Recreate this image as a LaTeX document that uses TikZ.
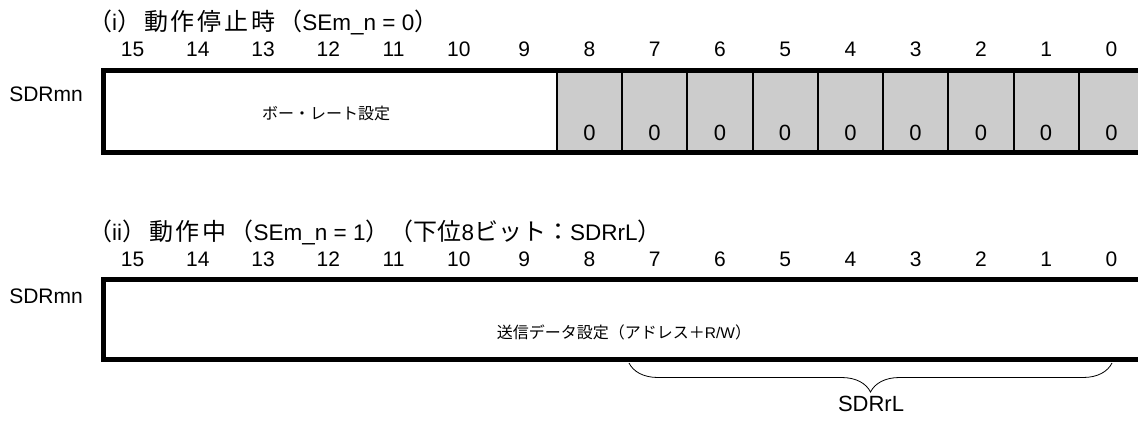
\documentclass[tikz,border=0pt]{standalone}
\usepackage{fontspec}
\setmainfont{Liberation Sans}
\newfontfamily\jpfont[LetterSpace=12]{Noto Sans CJK JP}
\newfontfamily\jpplain{Noto Sans CJK JP}
\newcommand{\jpbig}[1]{{\jpfont\fontsize{24}{25}\selectfont #1}}
\newcommand{\jpbign}[1]{{\jpplain\fontsize{24}{25}\selectfont #1}}
\usetikzlibrary{decorations.pathreplacing}

\begin{document}
\begin{tikzpicture}[
    x=1pt, y=-1pt,
    regframe/.style={line width=5pt},
    cellbox/.style={draw=black, fill=black!20, line width=2pt, minimum width=65.25pt, minimum height=82pt, inner sep=0pt},
    bitnum/.style={font=\fontsize{21}{21}\selectfont, inner sep=0pt},
    zerobit/.style={font=\fontsize{22}{22}\selectfont, inner sep=0pt},
    regname/.style={font=\fontsize{21}{21}\selectfont, anchor=east, inner sep=0pt},
    headline/.style={font=\fontsize{22.5}{23}\selectfont, anchor=west, inner sep=0pt},
    fieldtxt/.style={font=\jpplain\fontsize{16}{16}\selectfont, inner sep=0pt},
    bracepath/.style={decorate, decoration={brace, mirror, amplitude=29pt}, line width=0.8pt}
]

    % Cadre de l'image
    \fill[white] (0,0) rectangle (1138,424);
    \useasboundingbox (0,0) rectangle (1138,424);
    \clip (0,0) rectangle (1138,424);

    % ---------- (i) Arret ----------
    \node[headline] (title_stop) at (88,22) {\jpbig{（}i\jpbig{）動作停止時（}SEm\_n = 0\jpbig{）}};

    \node[bitnum] (b1_15) at (132.6,49) {15};
    \node[bitnum] (b1_14) at (197.9,49) {14};
    \node[bitnum] (b1_13) at (263.1,49) {13};
    \node[bitnum] (b1_12) at (328.4,49) {12};
    \node[bitnum] (b1_11) at (393.6,49) {11};
    \node[bitnum] (b1_10) at (458.9,49) {10};
    \node[bitnum] (b1_9) at (524.1,49) {9};
    \node[bitnum] (b1_8) at (589.4,49) {8};
    \node[bitnum] (b1_7) at (654.6,49) {7};
    \node[bitnum] (b1_6) at (719.9,49) {6};
    \node[bitnum] (b1_5) at (785.1,49) {5};
    \node[bitnum] (b1_4) at (850.4,49) {4};
    \node[bitnum] (b1_3) at (915.6,49) {3};
    \node[bitnum] (b1_2) at (980.9,49) {2};
    \node[bitnum] (b1_1) at (1046.1,49) {1};
    \node[bitnum] (b1_0) at (1111.4,49) {0};

    \node[regname] (reg_stop) at (83,94) {SDRmn};

    % Bits 8..0 fixes a 0
    \node[cellbox] (cell_8) at (589.375,111.5) {};
    \node[cellbox] (cell_7) at (654.625,111.5) {};
    \node[cellbox] (cell_6) at (719.875,111.5) {};
    \node[cellbox] (cell_5) at (785.125,111.5) {};
    \node[cellbox] (cell_4) at (850.375,111.5) {};
    \node[cellbox] (cell_3) at (915.625,111.5) {};
    \node[cellbox] (cell_2) at (980.875,111.5) {};
    \node[cellbox] (cell_1) at (1046.125,111.5) {};
    \node[cellbox] (cell_0) at (1111.375,111.5) {};

    \node[zerobit] (zero_8) at (589.4,133) {0};
    \node[zerobit] (zero_7) at (654.6,133) {0};
    \node[zerobit] (zero_6) at (719.9,133) {0};
    \node[zerobit] (zero_5) at (785.1,133) {0};
    \node[zerobit] (zero_4) at (850.4,133) {0};
    \node[zerobit] (zero_3) at (915.6,133) {0};
    \node[zerobit] (zero_2) at (980.9,133) {0};
    \node[zerobit] (zero_1) at (1046.1,133) {0};
    \node[zerobit] (zero_0) at (1111.4,133) {0};

    \node[fieldtxt] (baud) at (326,113) {ボー・レート設定};

    \draw[regframe] (1150,70.5) -- (103,70.5) -- (103,152.5) -- (1150,152.5);

    % ---------- (ii) En marche ----------
    \node[headline] (title_run) at (88,232) {\jpbig{（}ii\jpbig{）動作中（}SEm\_n = 1\jpbig{）}\jpbign{（下位}8\jpbign{ビット：}SDRrL\jpbign{）}};

    \node[bitnum] (b2_15) at (132.6,259) {15};
    \node[bitnum] (b2_14) at (197.9,259) {14};
    \node[bitnum] (b2_13) at (263.1,259) {13};
    \node[bitnum] (b2_12) at (328.4,259) {12};
    \node[bitnum] (b2_11) at (393.6,259) {11};
    \node[bitnum] (b2_10) at (458.9,259) {10};
    \node[bitnum] (b2_9) at (524.1,259) {9};
    \node[bitnum] (b2_8) at (589.4,259) {8};
    \node[bitnum] (b2_7) at (654.6,259) {7};
    \node[bitnum] (b2_6) at (719.9,259) {6};
    \node[bitnum] (b2_5) at (785.1,259) {5};
    \node[bitnum] (b2_4) at (850.4,259) {4};
    \node[bitnum] (b2_3) at (915.6,259) {3};
    \node[bitnum] (b2_2) at (980.9,259) {2};
    \node[bitnum] (b2_1) at (1046.1,259) {1};
    \node[bitnum] (b2_0) at (1111.4,259) {0};

    \node[regname] (reg_run) at (83,296) {SDRmn};

    \node[fieldtxt] (txdata) at (624,332) {送信データ設定（アドレス＋{\rmfamily\fontsize{15.5}{16}\selectfont R/W}）};

    \draw[regframe] (1150,279.5) -- (103,279.5) -- (103,359.5) -- (1150,359.5);

    % Accolade des 8 bits bas
    \coordinate (brace_l) at (629,363);
    \coordinate (brace_r) at (1112,363);
    \draw[bracepath] (brace_l) -- (brace_r);
    \node[regname, anchor=center, font=\fontsize{22}{22}\selectfont] (sdrrl) at (871,404) {SDRrL};

\end{tikzpicture}
\end{document}
